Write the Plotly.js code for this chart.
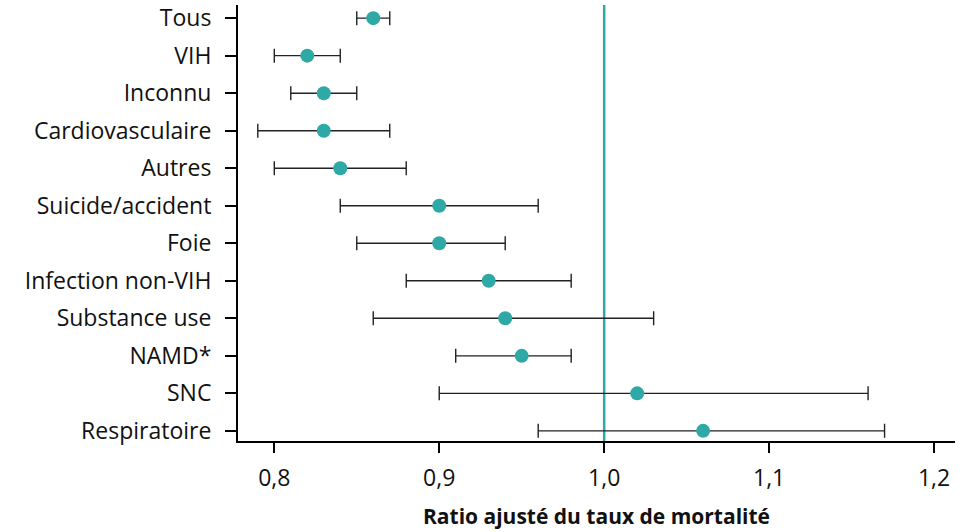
<!DOCTYPE html>
<html>
<head>
<meta charset="utf-8">
<script src="https://cdn.plot.ly/plotly-3.0.1.min.js"></script>
<style>html,body{margin:0;padding:0;background:#fff;}#chart{width:974px;height:532px;}</style>
</head>
<body>
<div id="chart"></div>
<script>
const categories = ["Tous","VIH","Inconnu","Cardiovasculaire","Autres","Suicide/accident","Foie","Infection non-VIH","Substance use","NAMD*","SNC","Respiratoire"];
const ratio = [0.86,0.82,0.83,0.83,0.84,0.90,0.90,0.93,0.94,0.95,1.02,1.06];
const ciLow = [0.85,0.80,0.81,0.79,0.80,0.84,0.85,0.88,0.86,0.91,0.90,0.96];
const ciHigh = [0.87,0.84,0.85,0.87,0.88,0.96,0.94,0.98,1.03,0.98,1.16,1.17];
const xTickVals = [0.8,0.9,1.0,1.1,1.2];
const xTickText = ["0,8","0,9","1,0","1,1","1,2"];
const refValue = 1.0;

const teal = "#2fa9a5";
const font = "'Open Sans', 'Noto Sans', sans-serif";

const trace = {
  type: "scatter",
  mode: "markers",
  x: ratio,
  y: categories,
  marker: {color: teal, size: 14},
  error_x: {
    type: "data",
    symmetric: false,
    array: ratio.map((v,i) => ciHigh[i] - v),
    arrayminus: ratio.map((v,i) => v - ciLow[i]),
    color: "#222",
    thickness: 1.4,
    width: 7
  },
  hoverinfo: "x+y"
};

const layout = {
  width: 974, height: 532,
  margin: {l: 238, r: 19, t: 5, b: 91},
  paper_bgcolor: "#fff", plot_bgcolor: "#fff",
  showlegend: false,
  font: {family: font, size: 23, color: "#111"},
  xaxis: {
    range: [0.778, 1.2127],
    tickvals: xTickVals, ticktext: xTickText,
    showgrid: false, zeroline: false,
    showline: true, linecolor: "#000", linewidth: 2,
    ticks: "outside", ticklen: 10, tickwidth: 2, tickcolor: "#000",
    ticklabelstandoff: 5,
    tickfont: {family: font, size: 23, color: "#111"},
    title: {text: "<b>Ratio ajusté du taux de mortalité</b>", font: {family: font, size: 21, color: "#111"}, standoff: 18}
  },
  yaxis: {
    type: "category",
    categoryorder: "array", categoryarray: categories,
    range: [11.27, -0.35],
    showgrid: false, zeroline: false,
    showline: true, linecolor: "#000", linewidth: 2,
    ticks: "outside", ticklen: 11, tickwidth: 2, tickcolor: "#000",
    ticklabelstandoff: 9,
    tickfont: {family: font, size: 23, color: "#111"}
  },
  shapes: [{
    type: "line", xref: "x", yref: "paper",
    x0: refValue, x1: refValue, y0: 0, y1: 1,
    line: {color: teal, width: 2.5},
    layer: "below"
  }]
};

Plotly.newPlot("chart", [trace], layout, {displayModeBar: false, staticPlot: true});
</script>
</body>
</html>
